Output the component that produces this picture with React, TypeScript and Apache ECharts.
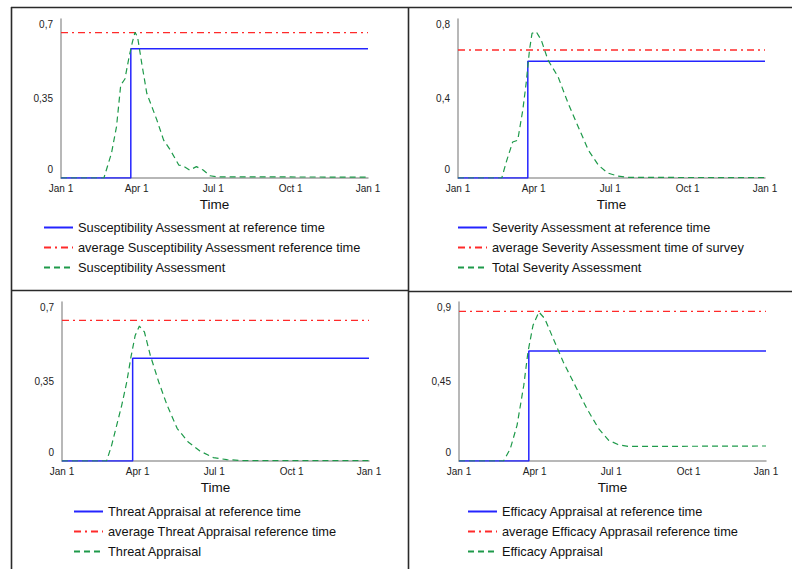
import React, { useEffect, useRef } from "react";
import * as echarts from "echarts";

// x axis in days from Jan 1
const xTickDays = [0, 90, 181, 273, 365];
const xTickLabels = ["Jan 1", "Apr 1", "Jul 1", "Oct 1", "Jan 1"];

// green dashed curves: [day, value]
const susceptibilityCurve = [
  [0, 0], [51, 0], [60, 0.109], [66, 0.226], [71, 0.409], [76, 0.436], [81, 0.534],
  [85, 0.6], [88, 0.641], [91, 0.622], [96, 0.505], [102, 0.373], [108, 0.314],
  [114, 0.255], [122, 0.167], [130, 0.123], [140, 0.057], [145, 0.054], [153, 0.035],
  [161, 0.05], [169, 0.035], [177, 0.01], [185, 0.005], [365, 0.004],
];
const severityCurve = [
  [0, 0], [52, 0], [58, 0.089], [65, 0.181], [71, 0.19], [77, 0.341], [81, 0.476],
  [85, 0.644], [88, 0.728], [93, 0.736], [99, 0.694], [107, 0.593], [119, 0.509],
  [131, 0.375], [143, 0.257], [155, 0.14], [167, 0.064], [178, 0.025], [190, 0.01],
  [202, 0.003], [365, 0.002],
];
const threatCurve = [
  [0, 0], [53, 0], [59, 0.069], [65, 0.157], [71, 0.245], [77, 0.348], [82, 0.458],
  [87, 0.553], [92, 0.594], [98, 0.568], [105, 0.465], [115, 0.348], [125, 0.245],
  [137, 0.143], [150, 0.084], [164, 0.044], [180, 0.015], [196, 0.006], [215, 0.002],
  [365, 0.002],
];
const efficacyCurve = [
  [0, 0], [53, 0], [61, 0.07], [69, 0.202], [77, 0.428], [82, 0.617], [88, 0.768],
  [95, 0.843], [102, 0.806], [112, 0.693], [124, 0.56], [138, 0.428], [152, 0.297],
  [166, 0.183], [178, 0.117], [189, 0.093], [201, 0.083], [250, 0.083], [365, 0.085],
];

// per panel values
const refStepDays = [83, 83, 84, 83];
const refValues = [0.569, 0.588, 0.452, 0.623];
const averageValues = [0.64, 0.644, 0.619, 0.847];
const yMaxValues = [0.7, 0.8, 0.7, 0.9];

const refNames = [
  "Susceptibility Assessment at reference time",
  "Severity Assessment at reference time",
  "Threat Appraisal at reference time",
  "Efficacy Appraisal at reference time",
];
const avgNames = [
  "average Susceptibility Assessment reference time",
  "average Severity Assessment time of survey",
  "average Threat Appraisal reference time",
  "average Efficacy Apprasail reference time",
];
const curveNames = [
  "Susceptibility Assessment",
  "Total Severity Assessment",
  "Threat Appraisal",
  "Efficacy Appraisal",
];
const curves = [susceptibilityCurve, severityCurve, threatCurve, efficacyCurve];

const FONT = "'Liberation Sans', Arial, sans-serif";
const gridPos = [
  { left: 61, top: 19 },
  { left: 458, top: 19 },
  { left: 62, top: 302 },
  { left: 459, top: 302 },
];
const legendPos = [
  { left: 43, top: 221 },
  { left: 457, top: 221 },
  { left: 73, top: 505 },
  { left: 467, top: 505 },
];

function buildOption() {
  const grid: any[] = [];
  const xAxis: any[] = [];
  const yAxis: any[] = [];
  const series: any[] = [];
  const legend: any[] = [];
  for (let i = 0; i < 4; i++) {
    grid.push({ left: gridPos[i].left, top: gridPos[i].top, width: 307, height: 159, containLabel: false });
    xAxis.push({
      type: "value",
      gridIndex: i,
      min: 0,
      max: 365,
      name: "Time",
      nameLocation: "middle",
      nameGap: 19,
      nameTextStyle: { fontFamily: FONT, fontSize: 13.5, color: "#111" },
      axisLine: { show: true, lineStyle: { color: "#a0a0a0", width: 1.5 } },
      axisTick: { show: false },
      splitLine: { show: false },
      axisLabel: {
        customValues: xTickDays,
        formatter: (v: number) => {
          const k = xTickDays.indexOf(Math.round(v));
          return k >= 0 ? xTickLabels[k] : "";
        },
        fontFamily: FONT,
        fontSize: 10,
        color: "#222",
        margin: 5,
      },
    });
    yAxis.push({
      type: "value",
      gridIndex: i,
      min: 0,
      max: yMaxValues[i],
      interval: yMaxValues[i] / 2,
      axisLine: { show: true, lineStyle: { color: "#a0a0a0", width: 1.5 } },
      axisTick: { show: false },
      splitLine: { show: false },
      axisLabel: {
        formatter: (v: number) => {
          const s = String(Math.round(v * 100) / 100).replace(".", ",");
          return v === 0 ? "{z|" + s + "}" : s;
        },
        rich: { z: { padding: [0, 0, 4, 0], fontFamily: FONT, fontSize: 10, color: "#222" } },
        fontFamily: FONT,
        fontSize: 10,
        color: "#222",
        margin: 8,
        verticalAlignMinLabel: "bottom",
        verticalAlignMaxLabel: "top",
      },
    });
    const step = refStepDays[i];
    series.push({
      name: refNames[i],
      type: "line",
      xAxisIndex: i,
      yAxisIndex: i,
      symbol: "none",
      data: [[0, 0], [step, 0], [step, refValues[i]], [365, refValues[i]]],
      lineStyle: { color: "#2424ff", width: 1.5 },
      itemStyle: { color: "#2424ff" },
    });
    series.push({
      name: avgNames[i],
      type: "line",
      xAxisIndex: i,
      yAxisIndex: i,
      symbol: "none",
      data: [[0, averageValues[i]], [365, averageValues[i]]],
      lineStyle: { color: "#ff2a2a", width: 1.3, type: [7, 4, 2, 4] },
      itemStyle: { color: "#ff2a2a" },
    });
    series.push({
      name: curveNames[i],
      type: "line",
      xAxisIndex: i,
      yAxisIndex: i,
      symbol: "none",
      data: curves[i],
      lineStyle: { color: "#1e9a4a", width: 1.2, type: [6, 4] },
      itemStyle: { color: "#1e9a4a" },
    });
    legend.push({
      orient: "vertical",
      left: legendPos[i].left,
      top: legendPos[i].top,
      padding: 0,
      itemWidth: 29,
      itemHeight: 14,
      itemGap: 6,
      itemStyle: { opacity: 0 },
      selectedMode: false,
      textStyle: { fontFamily: FONT, fontSize: 12.8, color: "#111" },
      data: [refNames[i], avgNames[i], curveNames[i]],
    });
  }
  // adjust legend spacing to match 20px rows
  legend.forEach((l) => {
    l.itemGap = 7;
  });
  const borderStyle = { stroke: "#2a2a2a", lineWidth: 1.6 };
  const graphic = [
    { type: "line", shape: { x1: 11, y1: 7.5, x2: 792, y2: 7.5 }, style: borderStyle },
    { type: "line", shape: { x1: 11.5, y1: 7, x2: 11.5, y2: 569 }, style: borderStyle },
    { type: "line", shape: { x1: 408.5, y1: 7, x2: 408.5, y2: 569 }, style: borderStyle },
    { type: "line", shape: { x1: 11, y1: 290.5, x2: 408, y2: 290.5 }, style: borderStyle },
    { type: "line", shape: { x1: 408, y1: 291.5, x2: 792, y2: 291.5 }, style: borderStyle },
  ];
  return {
    animation: false,
    backgroundColor: "#ffffff",
    grid,
    xAxis,
    yAxis,
    series,
    legend,
    graphic,
  };
}

export default function App() {
  const ref = useRef<HTMLDivElement>(null);
  useEffect(() => {
    if (!ref.current) return;
    const chart = echarts.init(ref.current, null, { renderer: "svg" });
    chart.setOption(buildOption() as any);
    return () => chart.dispose();
  }, []);
  return (
    <div
      ref={ref}
      style={{ position: "absolute", left: 0, top: 0, width: 792, height: 569 }}
    />
  );
}
